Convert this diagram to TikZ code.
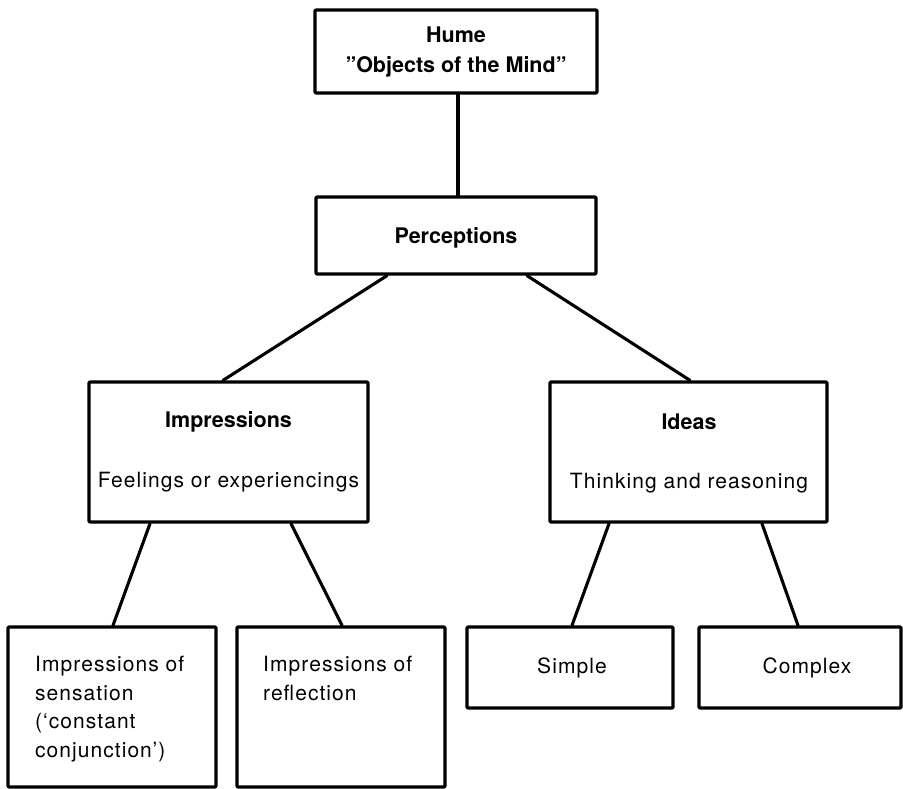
\documentclass[tikz,border=0pt]{standalone}
\usepackage{fontspec}
\setmainfont{TeX Gyre Heros}
\newfontfamily\regfont[LetterSpace=5]{TeX Gyre Heros}
\begin{document}
\begin{tikzpicture}[x=1pt,y=-1pt,
  box/.style={draw, line width=3.3pt, line join=round, rounded corners=1pt, inner sep=0pt, minimum width=#1},
  conn/.style={line width=3.1pt, line cap=round},
  bt/.style={font=\fontsize{21.5}{25}\selectfont\bfseries, anchor=base, inner sep=0pt},
  rt/.style={font=\fontsize{21}{25}\regfont, anchor=base, inner sep=0pt},
  lt/.style={font=\fontsize{21}{25}\regfont, anchor=base west, inner sep=0pt}]
\useasboundingbox (0,0) rectangle (903,788);
% boxes
\node[box=282pt, minimum height=83pt] (hume) at (456,51.5) {};
\node[box=280pt, minimum height=77pt] (perc) at (456,235.5) {};
\node[box=279pt, minimum height=140pt] (imp) at (228.5,452) {};
\node[box=277pt, minimum height=140pt] (ideas) at (688.5,452) {};
\node[box=208pt, minimum height=160pt] (sens) at (112,707) {};
\node[box=208pt, minimum height=160pt] (refl) at (341,707) {};
\node[box=206pt, minimum height=81pt] (simple) at (570,667.5) {};
\node[box=202pt, minimum height=81pt] (complex) at (800,667.5) {};
% texts
\node[bt] (humeA) at (456,42) {Hume};
\node[bt] (humeB) at (456,72) {''Objects of the Mind''};
\node[bt] (percT) at (456,243) {Perceptions};
\node[bt] (impA) at (228.5,427) {Impressions};
\node[rt] (impB) at (228.5,487) {Feelings or experiencings};
\node[bt] (ideasA) at (689,429) {Ideas};
\node[rt] (ideasB) at (689,488) {Thinking and reasoning};
\node[lt] (sensA) at (35,671) {Impressions of};
\node[lt] (sensB) at (35,700) {sensation};
\node[lt] (sensC) at (35,728) {(‘constant};
\node[lt] (sensD) at (35,757) {conjunction’)};
\node[lt] (reflA) at (263,671) {Impressions of};
\node[lt] (reflB) at (263,700) {reflection};
\node[rt] (simpleT) at (572,673) {Simple};
\node[rt] (complexT) at (807,673) {Complex};
% connectors
\draw[conn] ([xshift=2pt]hume.south) -- ([xshift=2pt]perc.north);
\draw[conn] ([xshift=-69pt]perc.south) -- ([xshift=-5.5pt]imp.north);
\draw[conn] ([xshift=71pt]perc.south) -- ([xshift=1.5pt]ideas.north);
\draw[conn] ([xshift=-78.5pt]imp.south) -- ([xshift=1pt]sens.north);
\draw[conn] ([xshift=62.5pt]imp.south) -- ([xshift=1pt]refl.north);
\draw[conn] ([xshift=-79.5pt]ideas.south) -- ([xshift=2pt]simple.north);
\draw[conn] ([xshift=73.5pt]ideas.south) -- ([xshift=-2pt]complex.north);
\end{tikzpicture}
\end{document}
